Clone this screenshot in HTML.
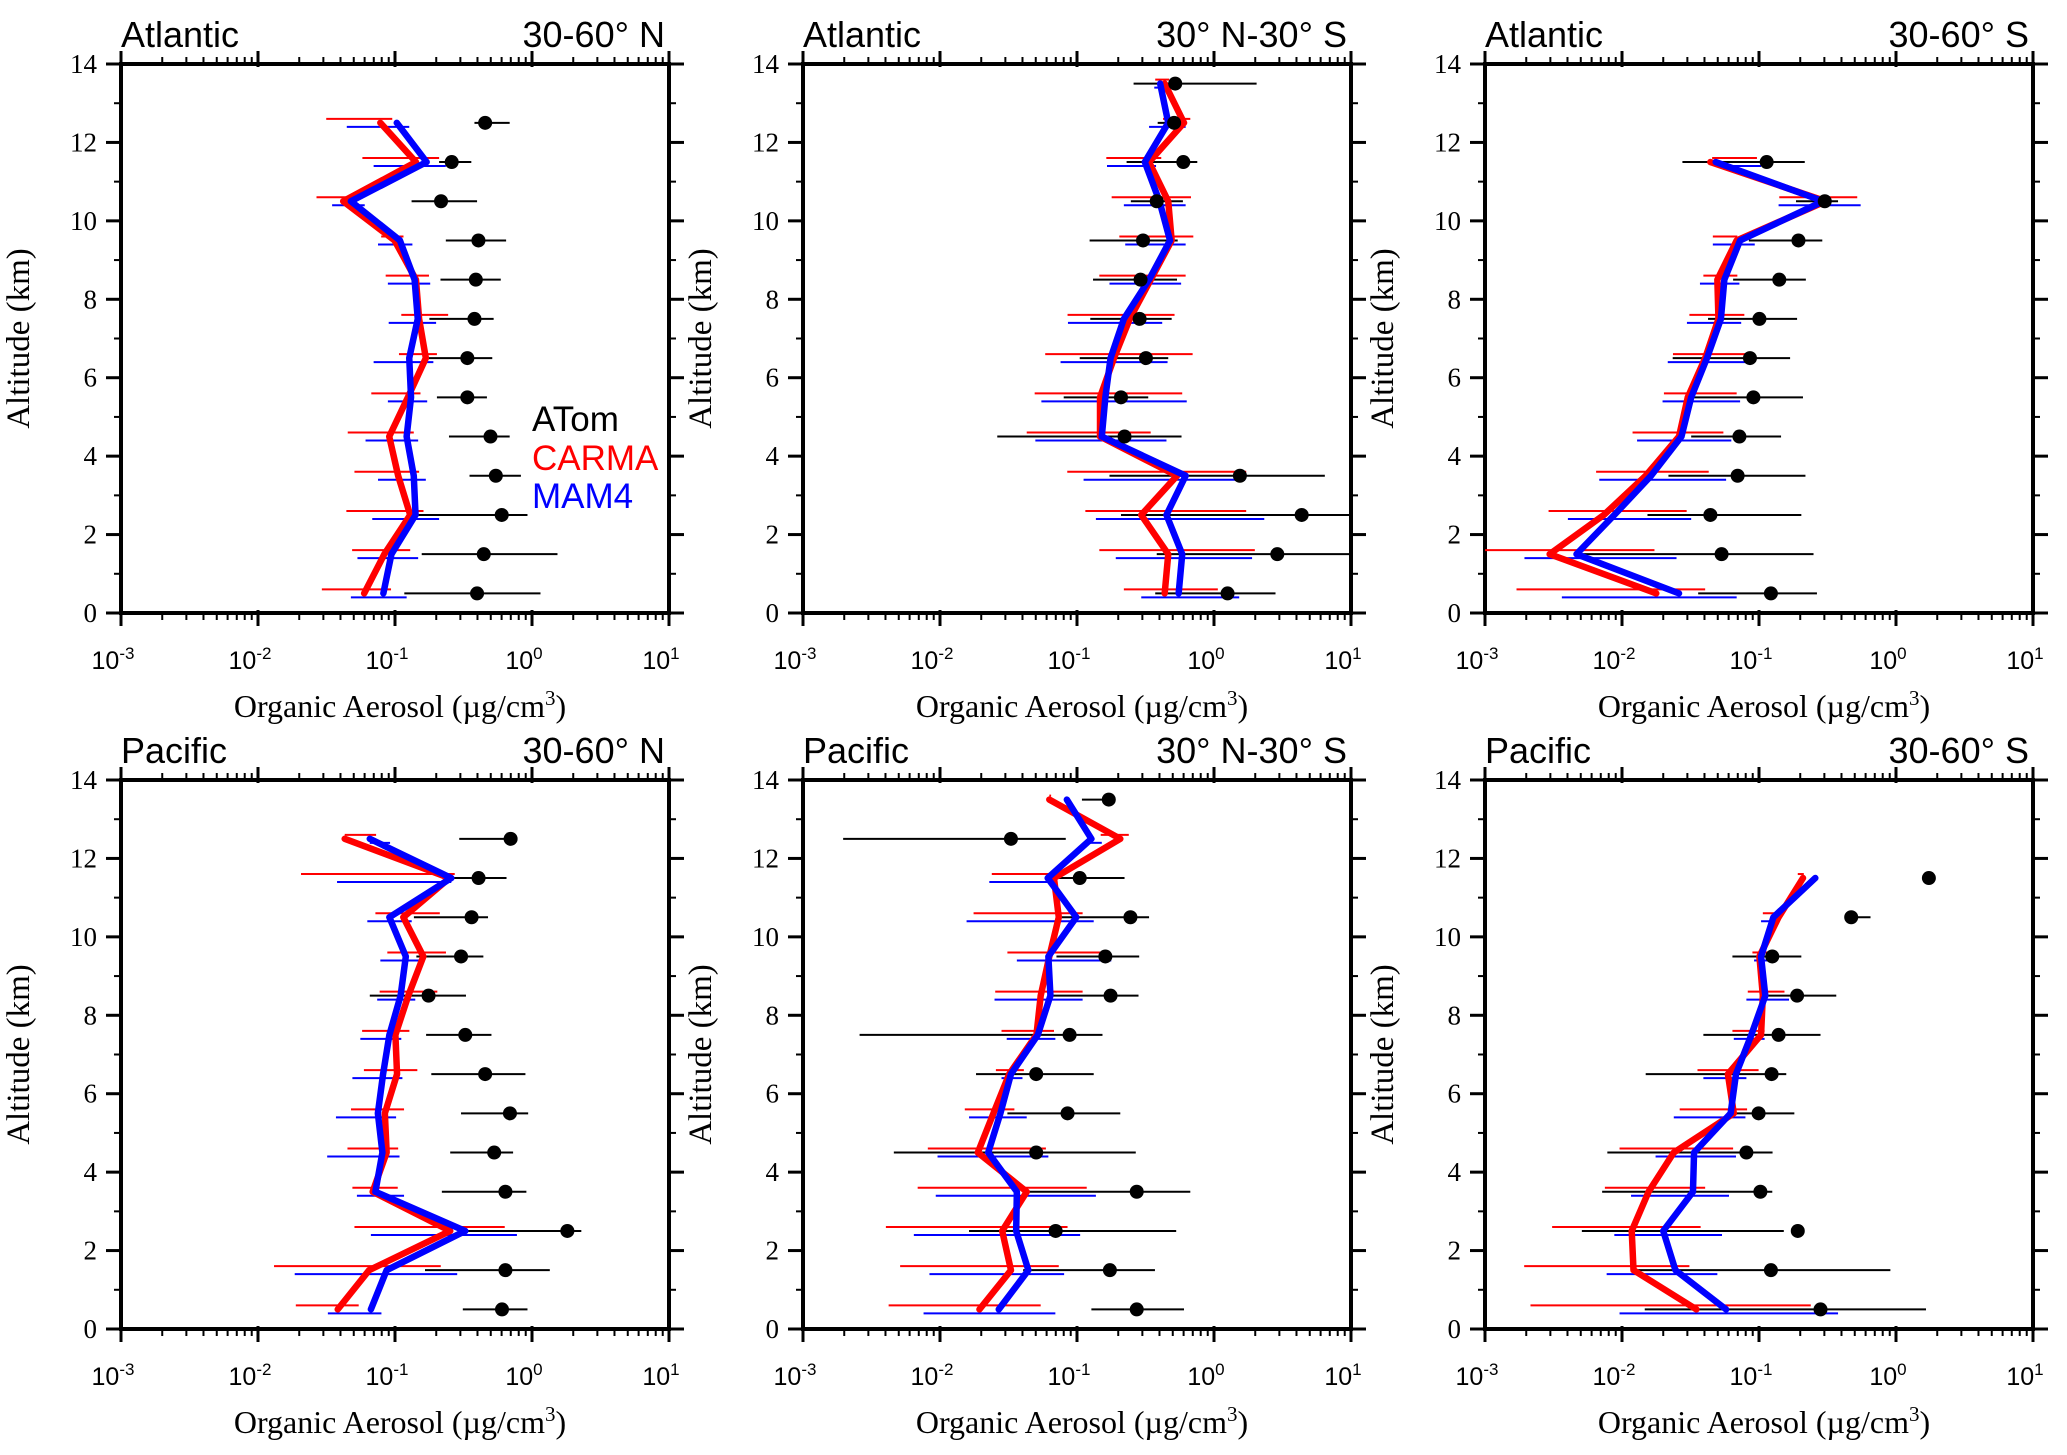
<!DOCTYPE html>
<html><head><meta charset="utf-8"><style>
html,body{margin:0;padding:0;background:#fff;}
svg{display:block;}
</style></head><body>
<svg id="fig" width="2067" height="1455" viewBox="0 0 2067 1455" xmlns="http://www.w3.org/2000/svg"></svg>
<script>
// Panel titles
const basins = ["Atlantic","Atlantic","Atlantic","Pacific","Pacific","Pacific"];
const regions = ["30-60° N","30° N-30° S","30-60° S","30-60° N","30° N-30° S","30-60° S"];
const xTickExps = ["-3","-2","-1","0","1"];
const yTicks = [0,2,4,6,8,10,12,14];
// altitudes (km) per panel
const alt0 = [12.5,11.5,10.5,9.5,8.5,7.5,6.5,5.5,4.5,3.5,2.5,1.5,0.5];
const alt1 = [13.5,12.5,11.5,10.5,9.5,8.5,7.5,6.5,5.5,4.5,3.5,2.5,1.5,0.5];
const alt2 = [11.5,10.5,9.5,8.5,7.5,6.5,5.5,4.5,3.5,2.5,1.5,0.5];
const alt3 = [12.5,11.5,10.5,9.5,8.5,7.5,6.5,5.5,4.5,3.5,2.5,1.5,0.5];
const alt4 = [13.5,12.5,11.5,10.5,9.5,8.5,7.5,6.5,5.5,4.5,3.5,2.5,1.5,0.5];
const alt5 = [11.5,10.5,9.5,8.5,7.5,6.5,5.5,4.5,3.5,2.5,1.5,0.5];
// log10 of concentration (ug/m3): ATom obs, lo, hi
const obs0 = [-0.342,-0.586,-0.664,-0.391,-0.410,-0.420,-0.472,-0.472,-0.303,-0.264,-0.221,-0.352,-0.401];
const obsLo0 = [-0.42,-0.678,-0.879,-0.629,-0.668,-0.749,-0.752,-0.694,-0.606,-0.456,-0.915,-0.805,-0.932];
const obsHi0 = [-0.163,-0.443,-0.401,-0.189,-0.228,-0.280,-0.290,-0.329,-0.163,-0.081,-0.033,0.186,0.062];
const carma0 = [-1.107,-0.847,-1.378,-1.003,-0.847,-0.824,-0.775,-0.906,-1.042,-0.977,-0.889,-1.078,-1.225];
const carmaLo0 = [-1.502,-1.238,-1.573,-1.101,-1.068,-0.954,-0.971,-1.173,-1.345,-1.296,-1.355,-1.313,-1.534];
const carmaHi0 = [-1.020,-0.678,-1.296,-0.938,-0.752,-0.612,-0.694,-0.814,-0.863,-0.824,-0.792,-0.889,-1.029];
const mam0 = [-0.987,-0.769,-1.322,-0.964,-0.857,-0.834,-0.896,-0.883,-0.915,-0.863,-0.850,-1.026,-1.085];
const mamLo0 = [-1.352,-1.156,-1.459,-1.124,-1.052,-1.046,-1.156,-1.052,-1.215,-1.124,-1.166,-1.274,-1.322];
const mamHi0 = [-0.896,-0.629,-1.221,-0.873,-0.743,-0.700,-0.720,-0.765,-0.831,-0.775,-0.678,-0.831,-0.915];

const obs1 = [-0.283,-0.291,-0.224,-0.418,-0.518,-0.536,-0.543,-0.497,-0.679,-0.653,0.189,0.640,0.462,0.099];
const obsLo1 = [-0.587,-0.411,-0.638,-0.607,-0.908,-0.883,-0.903,-0.980,-1.097,-1.582,-0.763,-0.679,-0.418,-0.429];
const obsHi1 = [0.311,-0.207,-0.122,-0.227,-0.265,-0.270,-0.309,-0.334,-0.480,-0.237,0.809,1.0,1.0,0.449];
const carma1 = [-0.360,-0.219,-0.474,-0.334,-0.309,-0.462,-0.615,-0.730,-0.832,-0.832,-0.270,-0.531,-0.334,-0.360];
const carmaLo1 = [-0.429,-0.372,-0.786,-0.747,-0.691,-0.837,-1.069,-1.232,-1.309,-1.367,-1.071,-0.939,-0.837,-0.658];
const carmaHi1 = [-0.327,-0.173,-0.385,-0.168,-0.151,-0.207,-0.288,-0.156,-0.232,-0.462,0.235,0.235,0.298,0.028];
const mam1 = [-0.393,-0.334,-0.505,-0.398,-0.321,-0.474,-0.658,-0.755,-0.793,-0.819,-0.207,-0.347,-0.232,-0.258];
const mamLo1 = [-0.436,-0.474,-0.781,-0.658,-0.648,-0.763,-1.066,-1.120,-1.260,-1.304,-0.952,-0.862,-0.717,-0.531];
const mamHi1 = [-0.347,-0.207,-0.423,-0.207,-0.207,-0.240,-0.378,-0.339,-0.199,-0.347,0.227,0.367,0.278,0.184];

const obs2 = [-0.944,-0.520,-0.712,-0.852,-0.997,-1.066,-1.041,-1.143,-1.156,-1.355,-1.273,-0.913];
const obsLo2 = [-1.559,-0.730,-1.074,-1.189,-1.372,-1.630,-1.474,-1.495,-1.661,-1.814,-2.286,-1.444];
const obsHi2 = [-0.666,-0.423,-0.538,-0.658,-0.722,-0.773,-0.679,-0.839,-0.661,-0.691,-0.602,-0.577];
const carma2 = [-1.355,-0.513,-1.163,-1.304,-1.296,-1.393,-1.520,-1.584,-1.827,-2.133,-2.528,-1.750];
const carmaLo2 = [-1.342,-0.852,-1.337,-1.406,-1.508,-1.628,-1.694,-1.923,-2.189,-2.536,-3.0,-2.770];
const carmaHi2 = [-1.015,-0.283,-1.158,-1.158,-1.107,-1.074,-1.163,-1.260,-1.367,-1.528,-1.763,-1.393];
const mam2 = [-1.316,-0.531,-1.138,-1.253,-1.278,-1.380,-1.495,-1.566,-1.788,-2.056,-2.332,-1.584];
const mamLo2 = [-1.316,-0.857,-1.337,-1.431,-1.526,-1.666,-1.704,-1.890,-2.166,-2.395,-2.712,-2.439];
const mamHi2 = [-0.985,-0.258,-1.031,-1.143,-1.130,-1.048,-1.138,-1.202,-1.240,-1.495,-1.602,-1.163];

const obs3 = [-0.156,-0.390,-0.441,-0.518,-0.755,-0.487,-0.342,-0.161,-0.276,-0.194,0.258,-0.194,-0.219];
const obsLo3 = [-0.531,-0.589,-0.862,-0.844,-1.184,-0.773,-0.735,-0.518,-0.597,-0.658,-0.538,-0.781,-0.505];
const obsHi3 = [-0.117,-0.186,-0.321,-0.355,-0.482,-0.296,-0.048,-0.028,-0.138,-0.041,0.360,0.130,-0.033];
const carma3 = [-1.367,-0.602,-0.939,-0.793,-0.903,-0.997,-0.985,-1.074,-1.061,-1.163,-0.597,-1.189,-1.418];
const carmaLo3 = [-1.367,-1.686,-1.143,-1.056,-1.112,-1.240,-1.227,-1.321,-1.347,-1.311,-1.296,-1.883,-1.724];
const carmaHi3 = [-1.138,-0.564,-0.673,-0.628,-0.691,-0.895,-0.837,-0.934,-0.977,-0.980,-0.199,-0.666,-1.265];
const mam3 = [-1.184,-0.589,-1.041,-0.921,-0.959,-1.041,-1.087,-1.125,-1.092,-1.143,-0.487,-1.061,-1.176];
const mamLo3 = [-1.184,-1.423,-1.202,-1.107,-1.130,-1.253,-1.311,-1.431,-1.495,-1.278,-1.176,-1.732,-1.490];
const mamHi3 = [-1.036,-0.589,-0.878,-0.806,-0.852,-0.954,-0.946,-0.992,-0.967,-0.934,-0.110,-0.546,-1.099];

const obs4 = [-0.768,-1.482,-0.980,-0.610,-0.793,-0.755,-1.054,-1.298,-1.069,-1.298,-0.564,-1.156,-0.760,-0.564];
const obsLo4 = [-0.964,-2.707,-1.202,-1.143,-1.150,-1.202,-2.587,-1.737,-1.508,-2.337,-1.393,-1.788,-1.393,-0.895];
const obsHi4 = [-0.730,-1.082,-0.653,-0.474,-0.546,-0.551,-0.814,-0.878,-0.684,-0.571,-0.173,-0.276,-0.431,-0.219];
const carma4 = [-1.202,-0.684,-1.168,-1.133,-1.202,-1.265,-1.296,-1.495,-1.610,-1.724,-1.367,-1.546,-1.482,-1.712];
const carmaLo4 = [-1.202,-0.827,-1.622,-1.755,-1.508,-1.597,-1.551,-1.592,-1.819,-2.089,-2.163,-2.395,-2.291,-2.375];
const carmaHi4 = [-1.189,-0.622,-1.092,-0.959,-0.768,-0.959,-1.168,-1.388,-1.457,-1.227,-0.929,-1.069,-1.133,-1.265];
const mam4v = [-1.074,-0.895,-1.214,-1.005,-1.209,-1.194,-1.286,-1.482,-1.559,-1.648,-1.439,-1.444,-1.355,-1.571];
const mamLo4 = [-1.074,-0.913,-1.640,-1.806,-1.439,-1.602,-1.513,-1.551,-1.788,-2.018,-2.031,-2.191,-2.077,-2.120];
const mamHi4 = [-1.056,-0.819,-1.184,-0.878,-0.750,-0.959,-1.158,-1.398,-1.367,-1.209,-0.862,-0.977,-1.094,-1.158];

const obs5 = [0.240,-0.327,-0.903,-0.722,-0.857,-0.908,-1.003,-1.092,-0.990,-0.717,-0.913,-0.551];
const obsLo5 = [0.240,-0.327,-1.194,-0.985,-1.406,-1.827,-1.214,-2.107,-2.145,-2.293,-1.903,-1.834];
const obsHi5 = [0.240,-0.186,-0.691,-0.436,-0.551,-0.801,-0.742,-0.901,-0.903,-0.819,-0.041,0.219];
const carma5 = [-0.679,-0.857,-0.997,-0.972,-0.985,-1.227,-1.184,-1.622,-1.806,-1.929,-1.916,-1.457];
const carmaLo5 = [-0.717,-0.972,-1.048,-1.082,-1.194,-1.449,-1.579,-2.018,-2.125,-2.510,-2.714,-2.668];
const carmaHi5 = [-0.673,-0.832,-0.939,-0.814,-0.959,-1.003,-1.087,-1.189,-1.393,-1.426,-1.508,-0.622];
const mam5 = [-0.589,-0.895,-0.985,-0.954,-1.056,-1.168,-1.207,-1.474,-1.482,-1.699,-1.610,-1.240];
const mamLo5 = [-0.589,-0.985,-1.036,-1.092,-1.184,-1.406,-1.622,-1.755,-1.934,-2.056,-2.112,-2.018];
const mamHi5 = [-0.589,-0.883,-0.934,-0.781,-0.959,-1.092,-1.099,-1.168,-1.219,-1.270,-1.304,-0.423];

const alts=[alt0,alt1,alt2,alt3,alt4,alt5];
const obsA=[obs0,obs1,obs2,obs3,obs4,obs5], obsL=[obsLo0,obsLo1,obsLo2,obsLo3,obsLo4,obsLo5], obsH=[obsHi0,obsHi1,obsHi2,obsHi3,obsHi4,obsHi5];
const carA=[carma0,carma1,carma2,carma3,carma4,carma5], carL=[carmaLo0,carmaLo1,carmaLo2,carmaLo3,carmaLo4,carmaLo5], carH=[carmaHi0,carmaHi1,carmaHi2,carmaHi3,carmaHi4,carmaHi5];
const mamA=[mam0,mam1,mam2,mam3,mam4v,mam5], mamL=[mamLo0,mamLo1,mamLo2,mamLo3,mamLo4,mamLo5], mamH=[mamHi0,mamHi1,mamHi2,mamHi3,mamHi4,mamHi5];

const NS="http://www.w3.org/2000/svg";
const svg=document.getElementById('fig');
function mk(tag,attrs,parent){const e=document.createElementNS(NS,tag);for(const k in attrs)e.setAttribute(k,attrs[k]);(parent||svg).appendChild(e);return e;}
const W=548,H=549,lefts=[121,803,1485],tops=[64,780];
const serif='"Liberation Serif", serif', sans='"Liberation Sans", sans-serif';

for(let p=0;p<6;p++){
  const L=lefts[p%3], T=tops[Math.floor(p/3)];
  const X=v=>L+(Math.max(-3,Math.min(1,v))+3)*W/4;
  const Y=a=>T+(14-a)*H/14;
  const g=mk('g',{});
  
  
  const tk=mk('g',{stroke:'#000','stroke-width':3},g);
  
  
  for(let d=0;d<=4;d++){
    const x=L+d*W/4;
    mk('line',{x1:x,y1:T+H-3,x2:x,y2:T+H+13},tk);
    mk('line',{x1:x,y1:T+3,x2:x,y2:T-13},tk);
    if(d<4) for(let m=2;m<=9;m++){
      const xm=L+(d+Math.log10(m))*W/4;
      mk('line',{x1:xm,y1:T+H,x2:xm,y2:T+H+7,'stroke-width':2},tk);
      mk('line',{x1:xm,y1:T,x2:xm,y2:T-7,'stroke-width':2},tk);
    }
  }
  for(let a=0;a<=14;a++){
    const y=Y(a), len=(a%2===0)?15:7;
    mk('line',{x1:L,y1:y,x2:L-len,y2:y,'stroke-width':a%2===0?3:2},tk);
    mk('line',{x1:L+W,y1:y,x2:L+W+len,y2:y,'stroke-width':a%2===0?3:2},tk);
  }
  const fr=mk('rect',{x:L,y:T,width:W,height:H,fill:'none',stroke:'#000','stroke-width':4},g);
  
  
  yTicks.forEach(a=>{
    const t=mk('text',{x:L-24,y:Y(a)+9,'text-anchor':'end','font-family':serif,'font-size':27},g);
    t.textContent=a;
    
    
  });
  xTickExps.forEach((e,i)=>{
    const t=mk('text',{x:L+i*W/4-8,y:T+H+56,'text-anchor':'middle','font-family':sans,'font-size':25},g);
    
    
    const a=mk('tspan',{},t);a.textContent='10';
    const b=mk('tspan',{dy:-10,'font-size':17},t);b.textContent=e;
  });
  const xt=mk('text',{x:L+W/2+5,y:T+H+104,'text-anchor':'middle','font-family':serif,'font-size':32},g);
  
  
  const s1=mk('tspan',{},xt);s1.textContent='Organic Aerosol (µg/cm';
  const s2=mk('tspan',{dy:-12,'font-size':21},xt);s2.textContent='3';
  const s3=mk('tspan',{dy:12},xt);s3.textContent=')';
  const yx=L-92, yy=T+H/2;
  const yt=mk('text',{x:yx,y:yy,'text-anchor':'middle','font-family':serif,'font-size':33,transform:`rotate(-90 ${yx} ${yy})`},g);
  yt.textContent='Altitude (km)';
  
  
  const tl=mk('text',{x:L,y:T-17,'font-family':sans,'font-size':36},g);
  tl.textContent=basins[p];
  
  
  const tr=mk('text',{x:L+W-4,y:T-17,'text-anchor':'end','font-family':sans,'font-size':36},g);
  tr.textContent=regions[p];
  
  

  const al=alts[p];
  al.forEach((a,i)=>{
    const r=mk('line',{x1:X(carL[p][i]),x2:X(carH[p][i]),y1:Y(a)-4,y2:Y(a)-4,stroke:'#ff0000','stroke-width':2},g);
    
    
    const b=mk('line',{x1:X(mamL[p][i]),x2:X(mamH[p][i]),y1:Y(a)+4,y2:Y(a)+4,stroke:'#0000ff','stroke-width':2},g);
    
    
  });
  al.forEach((a,i)=>{
    const e=mk('line',{x1:X(obsL[p][i]),x2:X(obsH[p][i]),y1:Y(a),y2:Y(a),stroke:'#000','stroke-width':2},g);
    
    
  });
  const carPts=al.map((a,i)=>X(carA[p][i])+','+Y(a)).join(' ');
  const cl=mk('polyline',{points:carPts,fill:'none',stroke:'#ff0000','stroke-width':6.5,'stroke-linejoin':'round','stroke-linecap':'round'},g);
  
  
  const mamPts=al.map((a,i)=>X(mamA[p][i])+','+Y(a)).join(' ');
  const ml=mk('polyline',{points:mamPts,fill:'none',stroke:'#0000ff','stroke-width':6.5,'stroke-linejoin':'round','stroke-linecap':'round'},g);
  
  
  al.forEach((a,i)=>{
    const c=mk('circle',{cx:X(obsA[p][i]),cy:Y(a),r:7,fill:'#000'},g);
    
    
  });
}
const lg=mk('g',{'font-family':sans,'font-size':35});


[['ATom','#000',431],['CARMA','#ff0000',470],['MAM4','#0000ff',508]].forEach(([t,c,y])=>{
  const e=mk('text',{x:532,y:y,fill:c},lg);
  e.textContent=t;
  
  
});
</script>
</body></html>
